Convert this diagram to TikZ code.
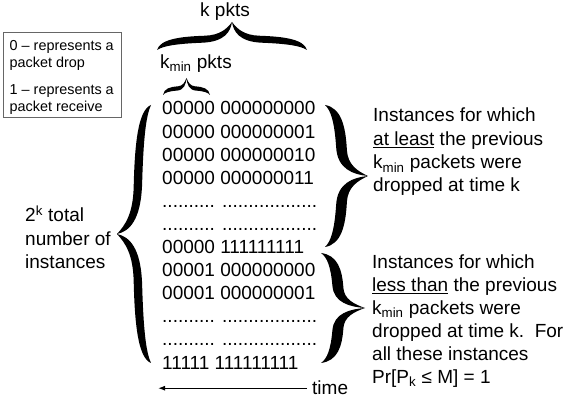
\documentclass[tikz,border=0pt]{standalone}
\usepackage{fontspec}
\setmainfont{Liberation Sans}
\usetikzlibrary{arrows.meta}
\newcommand\myul[1]{\sbox0{#1}\rlap{\rule[-3pt]{\wd0}{1.2pt}}\usebox0}
\newcommand\bracefill{%
  \fill[black] (1,0) .. controls (0.62,0.02) and (0.52,0.15) .. (0.49,0.32)
   .. controls (0.47,0.42) and (0.25,0.465) .. (0,0.5)
   .. controls (0.25,0.535) and (0.47,0.58) .. (0.49,0.68)
   .. controls (0.52,0.85) and (0.62,0.98) .. (1,1)
   .. controls (0.86,0.96) and (0.78,0.88) .. (0.74,0.7)
   .. controls (0.71,0.55) and (0.35,0.51) .. (0,0.5)
   .. controls (0.35,0.49) and (0.71,0.45) .. (0.74,0.3)
   .. controls (0.78,0.12) and (0.86,0.04) .. (1,0) -- cycle;}
\tikzset{
  txt/.style={anchor=base west, inner sep=0pt, font=\fontsize{19}{23}\selectfont},
  smalltxt/.style={anchor=base west, inner sep=0pt, font=\fontsize{14.4}{17}\selectfont},
  legendbox/.style={draw=black!60, line width=1pt},
  timearrow/.style={-{Latex[length=7pt,width=5pt]}, line width=1.2pt}
}
\begin{document}
\begin{tikzpicture}[x=1pt,y=-1pt]
\fill[white] (0,0) rectangle (568,403);
\useasboundingbox (0,0) rectangle (568,403);

% legend
\node[legendbox, minimum width=118pt, minimum height=85pt, inner sep=0pt, anchor=north west] (legend) at (3,32) {};
\node[smalltxt] (l1) at (9.5,51) {0 – represents a};
\node[smalltxt] (l2) at (9.5,68) {packet drop};
\node[smalltxt] (l3) at (9.5,95) {1 – represents a};
\node[smalltxt] (l4) at (9.5,112) {packet receive};

% top labels
\node[txt] (kpkts) at (200,16.5) {k pkts};
\node[txt] (kminpkts) at (160,68.3) {k\textsubscript{min} pkts};

% rows
\node[txt] (r1) at (162,115) {00000 000000000};
\node[txt] (r2) at (162,138.1) {00000 000000001};
\node[txt] (r3) at (162,161.2) {00000 000000010};
\node[txt] (r4) at (162,184.3) {00000 000000011};
\node[txt] (r5) at (162,207.4) {.......... ..................};
\node[txt] (r6) at (162,230.5) {.......... ..................};
\node[txt] (r7) at (162,253.6) {00000 111111111};
\node[txt] (r8) at (162,276.7) {00001 000000000};
\node[txt] (r9) at (162,299.8) {00001 000000001};
\node[txt] (r10) at (162,322.9) {.......... ..................};
\node[txt] (r11) at (162,346) {.......... ..................};
\node[txt] (r12) at (162,369.1) {11111 111111111};

% left label
\node[txt] (t1) at (25,222) {2\textsuperscript{k} total};
\node[txt] (t2) at (25,245.3) {number of};
\node[txt] (t3) at (25,268.6) {instances};

% right labels
\node[txt] (u1) at (373,122) {Instances for which};
\node[txt] (u2) at (373,145.3) {\myul{at least} the previous};
\node[txt] (u3) at (373,168.6) {k\textsubscript{min} packets were};
\node[txt] (u4) at (373,192) {dropped at time k};

\node[txt] (d1) at (372,268.3) {Instances for which};
\node[txt] (d2) at (372,291.3) {\myul{less than} the previous};
\node[txt] (d3) at (372,314.3) {k\textsubscript{min} packets were};
\node[txt] (d4) at (372,337.3) {dropped at time k.\ \ For};
\node[txt] (d5) at (372,360.3) {all these instances};
\node[txt] (d6) at (372,383.3) {Pr[P\textsubscript{k} ≤ M] = 1};

% braces
\begin{scope}[shift={(117,105)}, xscale=34, yscale=258] \bracefill \end{scope}
\begin{scope}[shift={(368,105)}, xscale=-43, yscale=142] \bracefill \end{scope}
\begin{scope}[shift={(365,253)}, xscale=-44, yscale=110] \bracefill \end{scope}
\begin{scope}[shift={(307,22)}, rotate=-90, xscale=28, yscale=150] \bracefill \end{scope}
\begin{scope}[shift={(210,78)}, rotate=-90, xscale=17, yscale=47] \bracefill \end{scope}

% time arrow
\node[txt] (time) at (312,395) {time};
\coordinate (timeend) at (158,388);
\draw[timearrow] ([xshift=-5pt]time.west) -- (timeend |- time.west);
\end{tikzpicture}
\end{document}
